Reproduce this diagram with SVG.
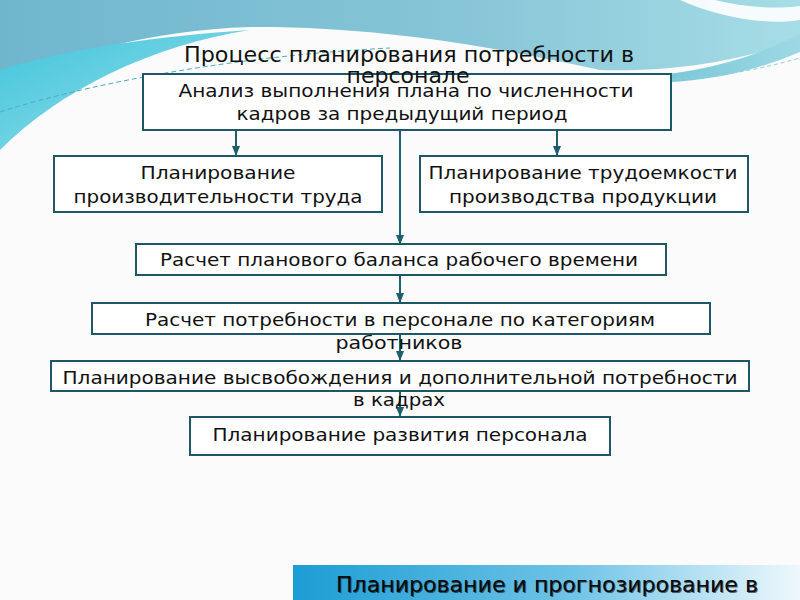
<svg xmlns="http://www.w3.org/2000/svg" width="800" height="600" viewBox="0 0 800 600">
<defs>
<linearGradient id="gTop" x1="0" y1="0" x2="1" y2="0">
<stop offset="0" stop-color="#6fb6cd"/>
<stop offset="0.6" stop-color="#88c6d8"/>
<stop offset="1" stop-color="#a6dde6"/>
</linearGradient>
<linearGradient id="gLeft" x1="0" y1="0" x2="1" y2="1">
<stop offset="0" stop-color="#3fc4dc"/>
<stop offset="1" stop-color="#9fe0ea"/>
</linearGradient>
<linearGradient id="gBand" x1="0" y1="0" x2="1" y2="0">
<stop offset="0" stop-color="#5fb9cf"/>
<stop offset="1" stop-color="#9dd9e4"/>
</linearGradient>
<linearGradient id="gFoot" x1="0" y1="0" x2="1" y2="0">
<stop offset="0" stop-color="#1c9dd5"/>
<stop offset="0.55" stop-color="#6fc3e6"/>
<stop offset="1" stop-color="#eef8fc"/>
</linearGradient>
<marker id="ah" markerWidth="10" markerHeight="10" refX="9" refY="5" orient="auto" markerUnits="userSpaceOnUse">
<path d="M0,1 L10,5 L0,9 Z" fill="#1d5f6c"/>
</marker>
<style>
.box{fill:#ffffff;stroke:#1d5866;stroke-width:2}
.t{font-family:"DejaVu Sans","Liberation Sans",sans-serif;font-size:18px;fill:#111;text-anchor:middle}
.title{font-family:"DejaVu Sans Condensed","DejaVu Sans",sans-serif;font-size:21px;fill:#111;text-anchor:middle}
.foot{font-family:"DejaVu Sans","Liberation Sans",sans-serif;font-size:21px;fill:#0a0a0a;text-anchor:middle}
.con{stroke:#1d5f6c;stroke-width:2;fill:none;marker-end:url(#ah)}
</style>
</defs>
<rect x="0" y="0" width="800" height="600" fill="#fbfbfb"/>
<!-- top decoration -->
<path d="M0,0 H800 V40 C740,60 680,72 600,70 C500,48 380,26 250,27 C150,30 60,55 0,90 Z" fill="url(#gTop)"/>
<path d="M680,0 C715,16 765,26 800,20 V6 C770,10 740,6 715,0 Z" fill="#ffffff" opacity="0.9"/>
<path d="M0,70 C70,48 160,36 250,30 C150,46 60,90 0,150 Z" fill="url(#gLeft)"/>
<path d="M0,112 C100,80 250,55 390,48" stroke="#4aaebf" stroke-width="1" stroke-dasharray="5,3" fill="none"/>
<path d="M560,73 C650,84 730,70 800,34 V52 C730,82 650,92 560,73 Z" fill="url(#gBand)"/>
<path d="M600,78 C690,84 750,72 800,58" stroke="#8fd0dc" stroke-width="1" stroke-dasharray="4,3" fill="none"/>
<!-- connectors -->
<g id="connectors">
<line class="con" x1="236" y1="131" x2="236" y2="155"/>
<line class="con" x1="400" y1="131" x2="400" y2="244"/>
<line class="con" x1="557" y1="131" x2="557" y2="155"/>
<line class="con" x1="400" y1="276" x2="400" y2="302"/>
<line class="con" x1="400" y1="335" x2="400" y2="360"/>
<line class="con" x1="400" y1="392" x2="400" y2="416"/>
</g>
<g id="n1">
<rect class="box" x="143" y="74" width="528" height="56"/>
<text class="t" x="406" y="97" textLength="455" lengthAdjust="spacingAndGlyphs">Анализ выполнения плана по численности</text>
<text class="t" x="402" y="120" textLength="331" lengthAdjust="spacingAndGlyphs">кадров за предыдущий период</text>
</g>
<g id="n2">
<rect class="box" x="54" y="156" width="328" height="56"/>
<text class="t" x="218" y="179" textLength="155" lengthAdjust="spacingAndGlyphs">Планирование</text>
<text class="t" x="218" y="203" textLength="289" lengthAdjust="spacingAndGlyphs">производительности труда</text>
</g>
<g id="n3">
<rect class="box" x="420" y="156" width="328" height="56"/>
<text class="t" x="583" y="179" textLength="309" lengthAdjust="spacingAndGlyphs">Планирование трудоемкости</text>
<text class="t" x="583" y="203" textLength="268" lengthAdjust="spacingAndGlyphs">производства продукции</text>
</g>
<g id="n4">
<rect class="box" x="136" y="244" width="530" height="31"/>
<text class="t" x="399" y="266" textLength="478" lengthAdjust="spacingAndGlyphs">Расчет планового баланса рабочего времени</text>
</g>
<g id="n5">
<rect class="box" x="92" y="303" width="618" height="31"/>
<text class="t" x="400" y="326" textLength="510" lengthAdjust="spacingAndGlyphs">Расчет потребности в персонале по категориям</text>
<text class="t" x="399" y="349" textLength="127" lengthAdjust="spacingAndGlyphs">работников</text>
</g>
<g id="n6">
<rect class="box" x="51" y="361" width="698" height="30"/>
<text class="t" x="400" y="384" textLength="675" lengthAdjust="spacingAndGlyphs">Планирование высвобождения и дополнительной потребности</text>
<text class="t" x="399" y="406" textLength="92" lengthAdjust="spacingAndGlyphs">в кадрах</text>
</g>
<g id="n7">
<rect class="box" x="190" y="417" width="420" height="38"/>
<text class="t" x="400" y="441" textLength="375" lengthAdjust="spacingAndGlyphs">Планирование развития персонала</text>
</g>
<!-- title (drawn on top, as in the reference) -->
<g id="title">
<text class="title" x="409" y="62" textLength="450" lengthAdjust="spacingAndGlyphs">Процесс планирования потребности в</text>
<text class="title" x="408" y="83" textLength="123" lengthAdjust="spacingAndGlyphs">персонале</text>
</g>
<!-- footer -->
<g id="footer">
<rect x="293" y="565" width="507" height="35" fill="url(#gFoot)"/>
<text class="foot" x="548" y="593" fill="#6a8a96" opacity="0.6" textLength="422" lengthAdjust="spacingAndGlyphs">Планирование и прогнозирование в</text>
<text class="foot" x="547" y="592" textLength="422" lengthAdjust="spacingAndGlyphs">Планирование и прогнозирование в</text>
</g>
</svg>
